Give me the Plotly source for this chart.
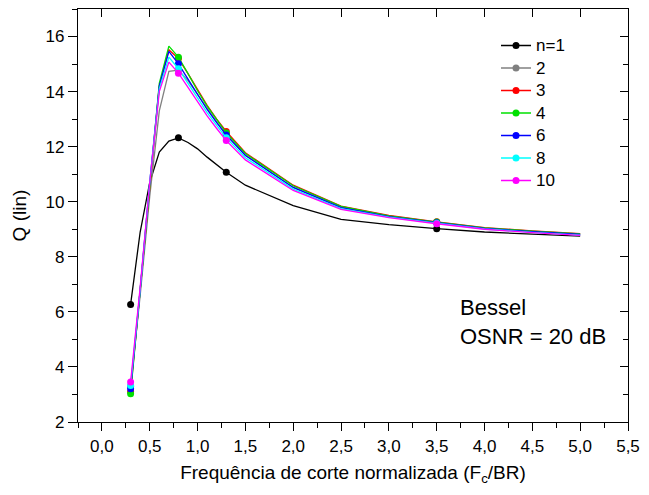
import plotly.graph_objects as go

# Data
fc = [0.3, 0.4, 0.5, 0.6, 0.7, 0.8, 0.9, 1.0, 1.1, 1.2, 1.3, 1.5, 2.0, 2.5, 3.0, 3.5, 4.0, 4.5, 5.0]
q_n1 = [6.27, 8.9, 10.7, 11.8, 12.2, 12.32, 12.15, 11.92, 11.62, 11.34, 11.07, 10.6, 9.86, 9.36, 9.17, 9.02, 8.9, 8.82, 8.75]
q_n2 = [3.3, 6.6, 10.2, 13.3, 14.74, 14.78, 14.4, 13.9, 13.4, 12.9, 12.45, 11.7, 10.52, 9.8, 9.47, 9.24, 9.03, 8.91, 8.81]
q_n3 = [3.1, 6.8, 10.7, 14.2, 15.52, 15.2, 14.65, 14.05, 13.5, 13.0, 12.55, 11.78, 10.6, 9.84, 9.5, 9.27, 9.06, 8.94, 8.84]
q_n4 = [3.03, 6.7, 10.6, 14.3, 15.65, 15.25, 14.65, 14.03, 13.47, 12.97, 12.5, 11.75, 10.58, 9.83, 9.49, 9.26, 9.05, 8.93, 8.83]
q_n6 = [3.21, 6.8, 10.7, 14.2, 15.46, 15.01, 14.45, 13.88, 13.35, 12.87, 12.42, 11.68, 10.52, 9.79, 9.46, 9.24, 9.03, 8.91, 8.81]
q_n8 = [3.33, 6.8, 10.7, 14.1, 15.25, 14.83, 14.3, 13.75, 13.24, 12.77, 12.32, 11.6, 10.46, 9.75, 9.44, 9.22, 9.01, 8.89, 8.79]
q_n10 = [3.45, 6.9, 10.7, 14.0, 15.07, 14.67, 14.15, 13.62, 13.12, 12.66, 12.22, 11.52, 10.41, 9.72, 9.42, 9.2, 9.0, 8.88, 8.78]

series_names = ["n=1", "2", "3", "4", "6", "8", "10"]
series_values = [q_n1, q_n2, q_n3, q_n4, q_n6, q_n8, q_n10]
series_colors = ["#000000", "#808080", "#FF0000", "#00E000", "#0000FF", "#00FFFF", "#FF00FF"]
marker_every = 5

FONT = "Liberation Sans, Arial, sans-serif"

fig = go.Figure()
for name, vals, col in zip(series_names, series_values, series_colors):
    fig.add_trace(go.Scatter(x=fc, y=vals, mode="lines", line=dict(color=col, width=1.3),
                             showlegend=False, hoverinfo="skip"))
    fig.add_trace(go.Scatter(x=fc[::marker_every], y=vals[::marker_every], mode="markers",
                             marker=dict(color=col, size=7), showlegend=False))
# legend entries
for name, col in zip(series_names, series_colors):
    fig.add_trace(go.Scatter(x=[None], y=[None], mode="lines+markers",
                             name='<span style="font-size:17px">' + name + '</span>',
                             line=dict(color=col, width=1.3), marker=dict(color=col, size=7)))

fig.update_layout(
    width=649, height=495,
    margin=dict(l=78, r=12, t=9, b=73),
    paper_bgcolor="white", plot_bgcolor="white",
    separators=",.",
    font=dict(family=FONT, size=17, color="black"),
    showlegend=True,
    legend=dict(x=0.760, y=0.951, xanchor="left", yanchor="top", bgcolor="rgba(0,0,0,0)",
                font=dict(size=15), tracegroupgap=0),
    xaxis=dict(range=[-0.25, 5.5], tick0=0, dtick=0.5, tickformat=".1f",
               showgrid=False, zeroline=False, showline=True, linecolor="black", linewidth=1.3,
               ticks="outside", ticklen=8, tickwidth=1.3, tickcolor="black",
               minor=dict(dtick=0.25, tick0=0, ticks="outside", ticklen=5, tickwidth=1.3, tickcolor="black", showgrid=False),
               title=dict(text="Frequência de corte normalizada (F<sub>c</sub>/BR)", font=dict(size=19), standoff=11)),
    yaxis=dict(range=[2, 17], tick0=0, dtick=2,
               showgrid=False, zeroline=False, showline=True, linecolor="black", linewidth=1.3,
               ticks="outside", ticklen=9, tickwidth=1.3, tickcolor="black",
               minor=dict(dtick=1, ticks="outside", ticklen=5, tickwidth=1.3, tickcolor="black", showgrid=False),
               title=dict(text="Q (lin)", font=dict(size=19), standoff=13)),
    xaxis2=dict(range=[-0.25, 5.5], tick0=0, dtick=0.5, overlaying="x", side="top", anchor="y",
                showgrid=False, zeroline=False, showline=True, linecolor="black", linewidth=1.3,
                ticks="inside", ticklen=8, tickwidth=1.3, tickcolor="black", showticklabels=False),
    yaxis2=dict(range=[2, 17], tick0=0, dtick=2, overlaying="y", side="right", anchor="x",
                showgrid=False, zeroline=False, showline=True, linecolor="black", linewidth=1.3,
                ticks="inside", ticklen=8, tickwidth=1.3, tickcolor="black", showticklabels=False,
                minor=dict(dtick=1, ticks="inside", ticklen=5, tickwidth=1.3, tickcolor="black", showgrid=False)),
    annotations=[dict(text="Bessel<br>OSNR = 20 dB", xref="paper", yref="paper",
                      x=0.69, y=0.243, xanchor="left", yanchor="middle", align="left",
                      showarrow=False, font=dict(size=22, family=FONT))],
)
# dummy trace to make secondary axes render
fig.add_trace(go.Scatter(x=[None], y=[None], xaxis="x2", yaxis="y2", showlegend=False, hoverinfo="skip"))

fig.write_html("out.html")
